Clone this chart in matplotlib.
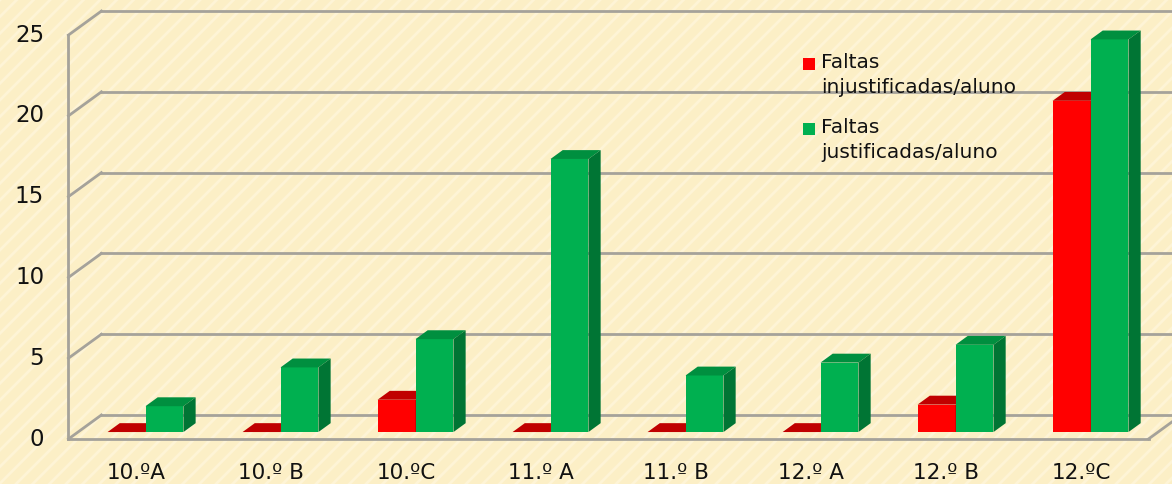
import matplotlib
matplotlib.use("Agg")
import matplotlib.pyplot as plt
from matplotlib.patches import Polygon, Rectangle

# --- DATA ---
turmas = ["10.ºA", "10.º B", "10.ºC", "11.º A", "11.º B", "12.º A", "12.º B", "12.ºC"]
injustificadas = [0.0, 0.0, 2.0, 0.0, 0.0, 0.0, 1.7, 20.5]
justificadas = [1.6, 4.0, 5.75, 16.9, 3.5, 4.3, 5.4, 24.3]
y_ticks = [0, 5, 10, 15, 20, 25]
series_names = ["Faltas\ninjustificadas/aluno", "Faltas\njustificadas/aluno"]

# --- STYLE ---
BG = "#FCEFC6"
GRID = "#A5A29A"
RED = ("#FF0000", "#C00000", "#A80000")      # front, top, side
GREEN = ("#00B050", "#008F3F", "#007534")
FONT = "DejaVu Sans"
plt.rcParams["hatch.linewidth"] = 2.0

# pseudo 3d: offset of the back wall in data units
DX, DY = 0.244, 1.485
BAR_W = 0.281
F0, F1 = 0.29, 0.66   # depth range of the bars (fraction of wall depth)

fig = plt.figure(figsize=(11.72, 4.84), dpi=100)
fig.patch.set_facecolor(BG)
ax = fig.add_axes([0, 0, 1, 1])
ax.set_xlim(-1.007, 7.674)
ax.set_ylim(-2.785, 27.17)
ax.axis("off")

# faint diagonal stripes in the background
ax.add_patch(Rectangle((0, 0), 1, 1, transform=ax.transAxes, facecolor=BG,
                       edgecolor="#FEF4D6", hatch="//", linewidth=0, zorder=0))

x_left, x_right = -0.5, 7.5
ymax = y_ticks[-1]

# walls / gridlines
lw = 2
for v in y_ticks:
    ax.plot([x_left, x_left + DX], [v, v + DY], color=GRID, lw=lw, zorder=1)
    ax.plot([x_left + DX, x_right + DX], [v + DY, v + DY], color=GRID, lw=lw, zorder=1)
ax.plot([x_left, x_left], [0, ymax], color=GRID, lw=lw, zorder=1)
ax.plot([x_left, x_right], [0, 0], color=GRID, lw=lw, zorder=1)
ax.plot([x_right, x_right + DX], [0, DY], color=GRID, lw=lw, zorder=1)


def bar3d(x0, v, colors):
    front, top, side = colors
    bx = x0 + F0 * DX
    by = F0 * DY
    ddx = (F1 - F0) * DX
    ddy = (F1 - F0) * DY
    ax.add_patch(Polygon([(bx, by), (bx + BAR_W, by), (bx + BAR_W, by + v), (bx, by + v)],
                         closed=True, facecolor=front, edgecolor="none", zorder=3))
    ax.add_patch(Polygon([(bx, by + v), (bx + BAR_W, by + v),
                          (bx + BAR_W + ddx, by + v + ddy), (bx + ddx, by + v + ddy)],
                         closed=True, facecolor=top, edgecolor="none", zorder=3))
    ax.add_patch(Polygon([(bx + BAR_W, by), (bx + BAR_W + ddx, by + ddy),
                          (bx + BAR_W + ddx, by + v + ddy), (bx + BAR_W, by + v)],
                         closed=True, facecolor=side, edgecolor="none", zorder=3))


for i in range(len(turmas)):
    bar3d(i - BAR_W, injustificadas[i], RED)
    bar3d(i, justificadas[i], GREEN)

# axis labels
for v in y_ticks:
    ax.text(x_left - 0.18, v, str(v), ha="right", va="center",
            fontsize=16.5, family=FONT, color="#111111")
for i, t in enumerate(turmas):
    ax.text(i, -2.1, t, ha="center", va="center", fontsize=15.5,
            family=FONT, color="#111111")

# legend
for k, (name, col) in enumerate(zip(series_names, [RED[0], GREEN[0]])):
    y_top = 1 - (57 + k * 65) / 484
    fig.patches.append(Rectangle((803 / 1172, y_top - 13 / 484), 12 / 1172, 12 / 484,
                                 transform=fig.transFigure, facecolor=col,
                                 edgecolor="none", zorder=5))
    fig.text(821 / 1172, y_top + 4 / 484, name, ha="left", va="top",
             fontsize=14.5, family=FONT, color="#111111", linespacing=1.4)

fig.savefig("out.png", dpi=100, facecolor=BG)
